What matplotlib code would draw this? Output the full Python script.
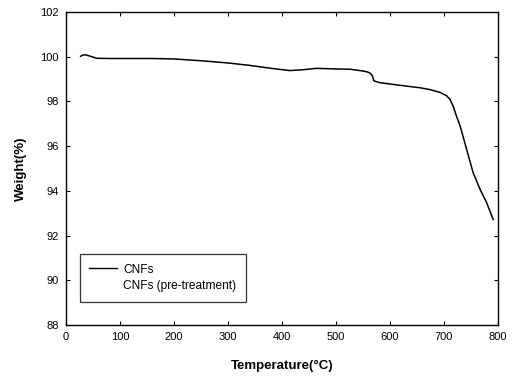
import matplotlib
matplotlib.use("Agg")
import matplotlib.pyplot as plt
from matplotlib.lines import Line2D

plt.rcParams['font.family'] = ['Liberation Sans', 'DejaVu Sans']

temperature = [27, 32, 37, 45, 57, 80, 120, 160, 200, 250, 300, 341, 380, 415, 440, 464,
               489, 526, 550, 558, 563, 566, 568, 570, 581, 619, 656, 674, 693, 705, 711,
               717, 723, 730, 742, 754, 767, 779, 791]
weight = [100.02, 100.08, 100.08, 100.02, 99.93, 99.92, 99.92, 99.92, 99.90, 99.82, 99.72,
          99.61, 99.48, 99.38, 99.42, 99.48, 99.46, 99.44, 99.36, 99.32, 99.27, 99.20,
          99.10, 98.92, 98.84, 98.72, 98.61, 98.53, 98.40, 98.25, 98.09, 97.79, 97.35,
          96.89, 95.85, 94.81, 94.06, 93.47, 92.72]

series_labels = ["CNFs", "CNFs (pre-treatment)"]
x_ticks = [0, 100, 200, 300, 400, 500, 600, 700, 800]
y_ticks = [88, 90, 92, 94, 96, 98, 100, 102]

fig = plt.figure(figsize=(5.13, 3.77), dpi=100)
ax = fig.add_axes([66/513, 1-325/377, 432/513, 313/377])
ax.plot(temperature, weight, color='black', lw=1.1)

ax.set_xlim(0, 800)
ax.set_ylim(88, 102)
ax.set_xticks(x_ticks)
ax.set_yticks(y_ticks)
ax.tick_params(direction='in', top=True, right=True, labelsize=8, length=3, width=0.8, pad=5)
for s in ax.spines.values():
    s.set_linewidth(1.0)

ax.set_xlabel("Temperature(°C)", fontsize=9.5, fontweight='bold', labelpad=13)
ax.set_ylabel("Weight(%)", fontsize=9.5, fontweight='bold', labelpad=10)

handles = [Line2D([], [], color='black', lw=1.0),
           Line2D([], [], color='white', lw=1.0, alpha=0)]
leg = ax.legend(handles, series_labels, loc='lower left', bbox_to_anchor=(0.032, 0.074),
                fontsize=8.6, frameon=True, fancybox=False, edgecolor='black',
                handlelength=2.3, handletextpad=0.55, borderpad=0.8, labelspacing=0.4,
                borderaxespad=0)
leg.get_frame().set_linewidth(0.9)

fig.savefig("out.png", dpi=100)
